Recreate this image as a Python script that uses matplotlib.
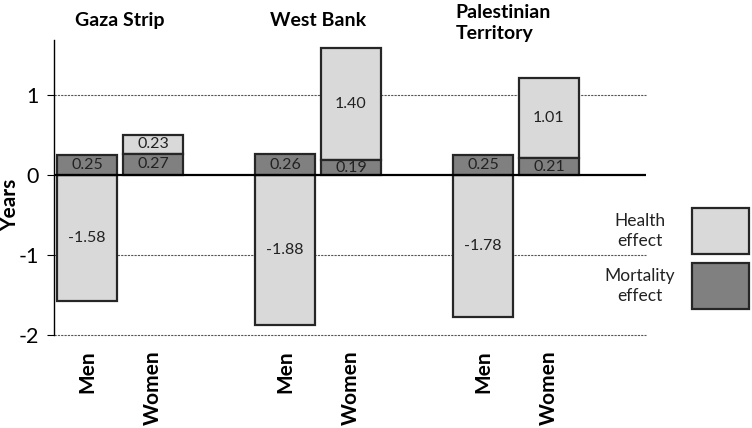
import numpy as np
import matplotlib
matplotlib.use('Agg')
import matplotlib.pyplot as plt
from matplotlib.patches import Rectangle

plt.rcParams['font.family'] = ['Lato', 'DejaVu Sans']

regions = ['Gaza Strip', 'West Bank', 'Palestinian\nTerritory']
sexes = ['Men', 'Women']
# per region: men, women
mortality = [[0.25, 0.27], [0.26, 0.19], [0.25, 0.21]]
health = [[-1.58, 0.23], [-1.88, 1.40], [-1.78, 1.01]]
legend_labels = ['Health\neffect', 'Mortality\neffect']

LIGHT = '#d9d9d9'
DARK = '#808080'
EDGE = '#262626'

fig = plt.figure(figsize=(7.52, 4.28), dpi=100)
ax = fig.add_axes([54 / 752, 1 - 335 / 428, (646 - 54) / 752, (335 - 40) / 428])

xpos, xlab = [], []
mort_vals, health_vals, health_bottom = [], [], []
for g in range(len(regions)):
    for s in range(2):
        xpos.append(3 * g + s)
        xlab.append(sexes[s])
        m = mortality[g][s]
        h = health[g][s]
        mort_vals.append(m)
        health_vals.append(h)
        health_bottom.append(m if h > 0 else 0)

# gridlines
for y in [1, -1, -2]:
    ax.axhline(y, color='#555555', lw=0.8, ls=(0, (2, 1)), zorder=0,
               clip_on=False)

ax.bar(xpos, health_vals, bottom=health_bottom, width=0.91, color=LIGHT,
       edgecolor=EDGE, linewidth=1.6, zorder=2)
ax.bar(xpos, mort_vals, width=0.91, color=DARK,
       edgecolor=EDGE, linewidth=1.6, zorder=2)
ax.axhline(0, color='black', lw=1.6, zorder=3)

# value labels
for x, m, h, b in zip(xpos, mort_vals, health_vals, health_bottom):
    ax.text(x, m / 2, '%.2f' % m, ha='center', va='center', fontsize=11.5,
            color='#222222', zorder=4)
    ax.text(x, b + h / 2, '%.2f' % h, ha='center', va='center', fontsize=11.5,
            color='#222222', zorder=4)

ax.set_xlim(-0.5, 8.47)
ax.set_ylim(-2, 1.69)
ax.set_yticks([-2, -1, 0, 1])
ax.set_yticklabels(['-2', '-1', '0', '1'], fontsize=15.5)
ax.set_xticks(xpos)
ax.set_xticklabels(xlab, rotation=90, fontsize=15, fontweight='bold', va='top')
ax.tick_params(axis='x', length=0, pad=11)
ax.tick_params(axis='y', length=5, width=0.8, pad=6)
for side in ['top', 'right', 'bottom']:
    ax.spines[side].set_visible(False)
ax.spines['left'].set_linewidth(1.0)
ax.set_ylabel('Years', fontsize=15, fontweight='bold')
ax.yaxis.set_label_coords(-34 / 592, (335 - 205) / 295)

# region titles
ax.text(0.5, 1.93, regions[0], ha='center', va='center', fontsize=14,
        fontweight='bold')
ax.text(3.5, 1.93, regions[1], ha='center', va='center', fontsize=14,
        fontweight='bold')
ax.text(5.58, 1.9, regions[2], ha='left', va='center', fontsize=14,
        fontweight='bold', linespacing=1.25)

# legend drawn by hand: text left, swatch right
for i, (lab, col) in enumerate(zip(legend_labels, [LIGHT, DARK])):
    top = 208 + i * 55
    fig.patches.append(Rectangle((692 / 752, 1 - (top + 46) / 428), 57 / 752,
                                 46 / 428, transform=fig.transFigure,
                                 facecolor=col, edgecolor=EDGE, linewidth=1.6))
    fig.text(640 / 752, 1 - (top + 23) / 428, lab, ha='center', va='center',
             fontsize=12.5, linespacing=1.25, color='#222222')

plt.savefig('out.png', dpi=100)
